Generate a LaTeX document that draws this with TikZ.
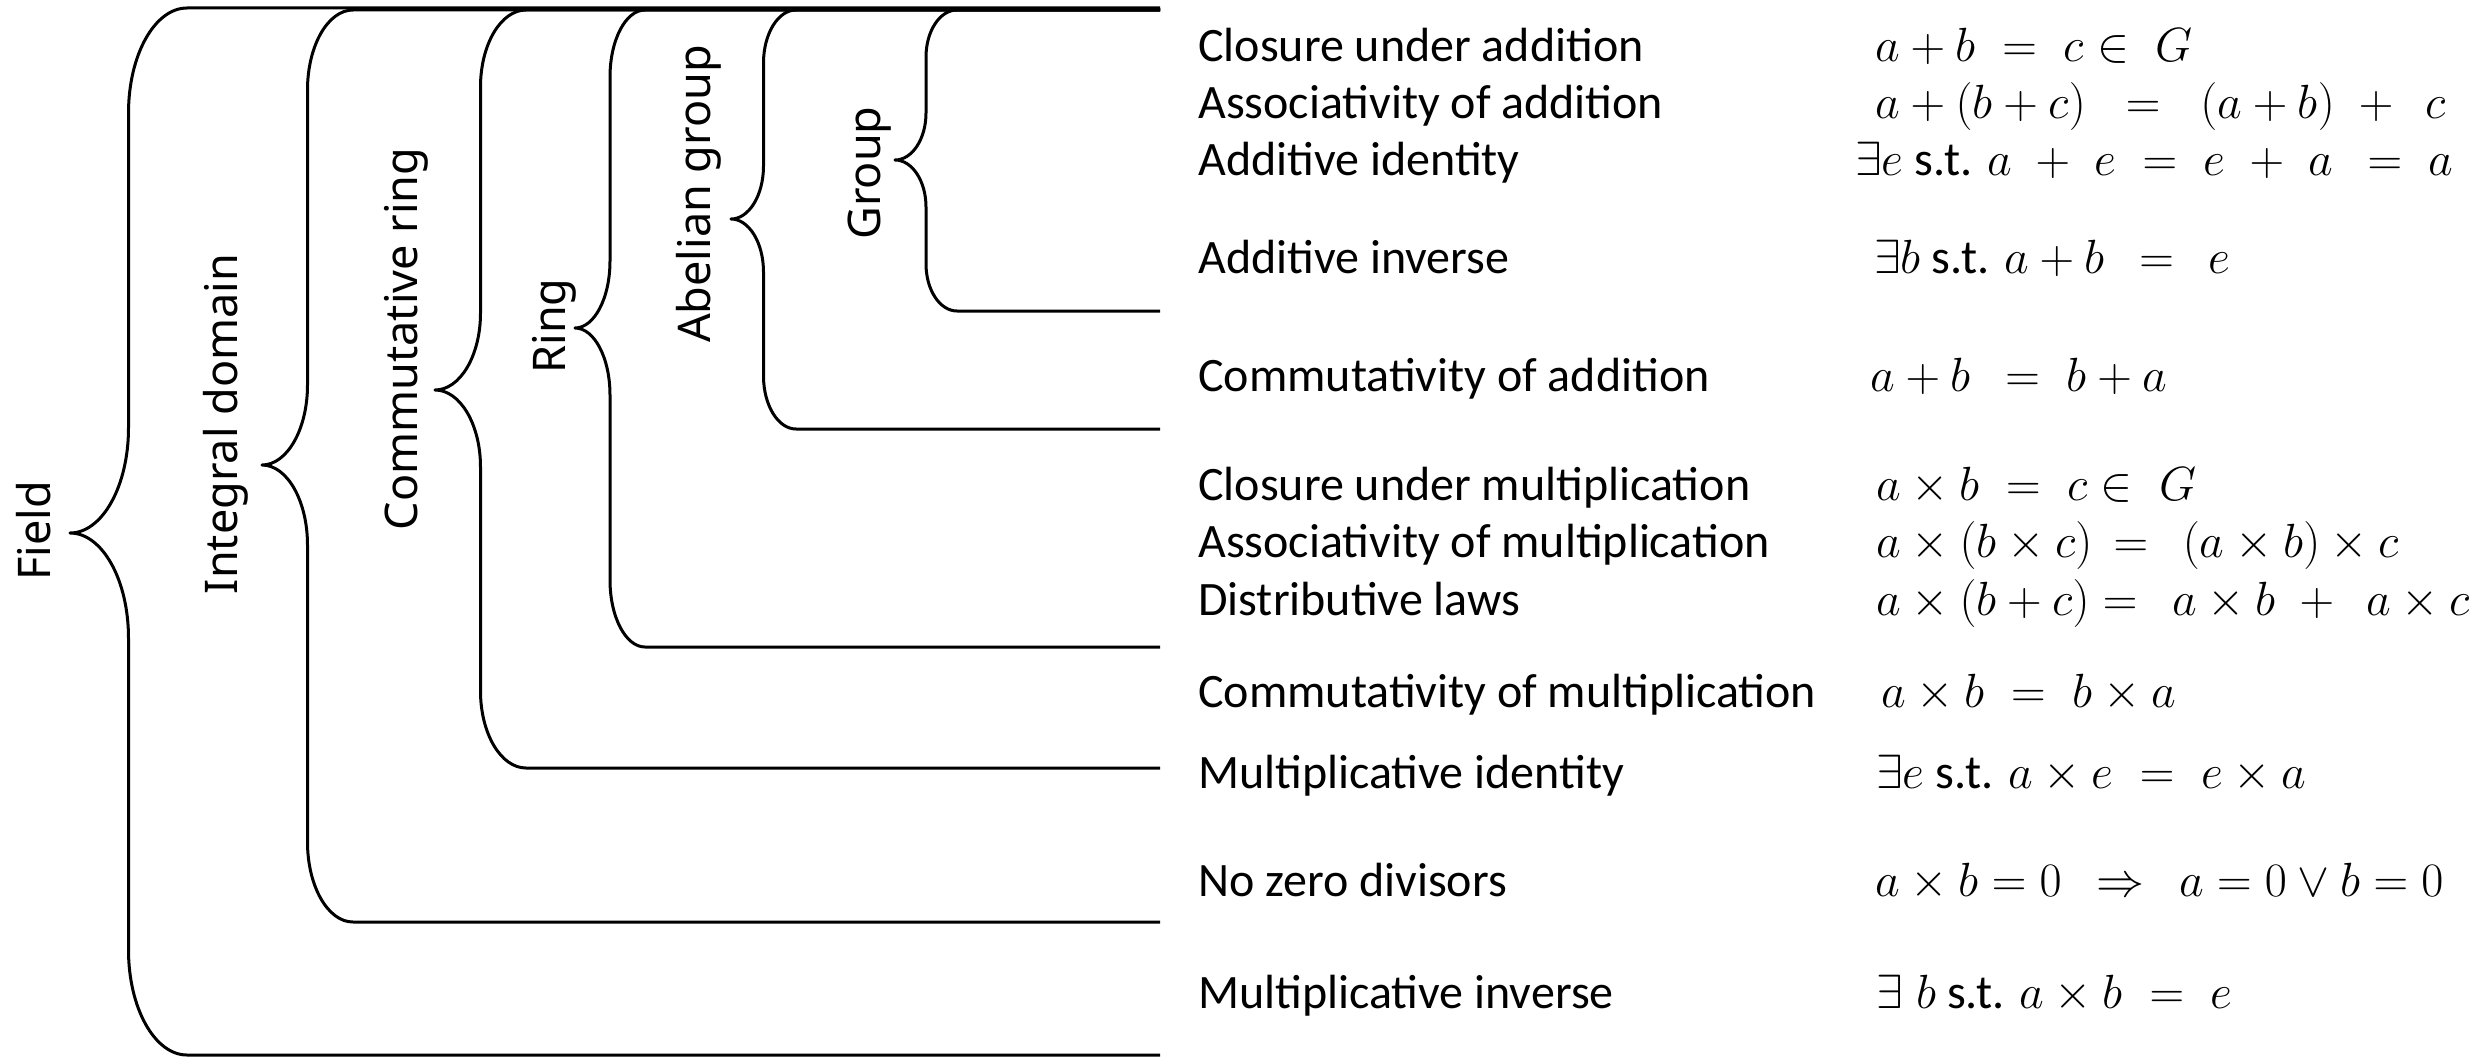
\RequirePackage{fix-cm}
\documentclass[tikz,border=0pt]{standalone}
\usepackage{fontspec}
\setmainfont{Carlito}
\newfontfamily\labelfont{Noto Sans}

% Curly brace opening to the right, with its two ends and tip as quarter ellipses.
% #1 tip x, #2 end x, #3 top y, #4 bottom y, #5 tip y, #6 vertical radius
\newcommand\algbrace[6]{%
  \pgfmathsetmacro\bhc{(#1+#2)/2}%
  \pgfmathsetmacro\bkx{0.5523*(#2-#1)/2}%
  \pgfmathsetmacro\bky{0.5523*#6}%
  \draw[bracestyle] (rend |- {(0,#3)}) -- (#2,#3)
    .. controls ({#2-\bkx},#3) and (\bhc,{#3+#6-\bky}) .. (\bhc,{#3+#6})
    -- (\bhc,{#5-#6})
    .. controls (\bhc,{#5-#6+\bky}) and ({#1+\bkx},#5) .. (#1,#5)
    .. controls ({#1+\bkx},#5) and (\bhc,{#5+#6-\bky}) .. (\bhc,{#5+#6})
    -- (\bhc,{#4-#6})
    .. controls (\bhc,{#4-#6+\bky}) and ({#2-\bkx},#4) .. (#2,#4)
    -- (rend |- {(0,#4)});
}

\begin{document}
\begin{tikzpicture}[x=1pt,y=-1pt,
  bracestyle/.style={line width=3pt,line join=round},
  setname/.style={rotate=90,anchor=base,inner sep=0pt,
    font=\labelfont\fontsize{45}{54}\selectfont},
  axiom/.style={anchor=base west,inner sep=0pt,
    font=\fontsize{48}{58}\selectfont},
  formula/.style={anchor=base west,inner sep=0pt,
    font=\fontsize{48}{58}\selectfont}]
\useasboundingbox (0,0) rectangle (2483,1057);
\coordinate (rend) at (1160,0);

% nested braces, outermost first
\algbrace{70}{187}{8}{1055}{533}{105}
\algbrace{262}{353}{10}{922}{465}{80}
\algbrace{435}{526}{10}{768}{390}{77}
\algbrace{575}{645}{10}{647}{328}{67}
\algbrace{731}{796}{10}{429}{219}{53}
\algbrace{895}{957}{10}{311}{160}{47}

% structure names
\node[setname] (field)  at (50,531)  {Field};
\node[setname] (intdom) at (237,424) {Integral domain};
\node[setname] (comring) at (417,339) {Commutative ring};
\node[setname] (ring)   at (565,326) {Ring};
\node[setname] (abgrp)  at (710,194) {Abelian group};
\node[setname] (grp)    at (880,173) {Group};

% axioms
\node[axiom] (p1)  at (1198,62)   {Closure under addition};
\node[axiom] (p2)  at (1198,118)  {Associativity of addition};
\node[axiom] (p3)  at (1198,175)  {Additive identity};
\node[axiom] (p4)  at (1198,273)  {Additive inverse};
\node[axiom] (p5)  at (1198,391)  {Commutativity of addition};
\node[axiom] (p6)  at (1198,500)  {Closure under multiplication};
\node[axiom] (p7)  at (1198,557)  {Associativity of multiplication};
\node[axiom] (p8)  at (1198,615)  {Distributive laws};
\node[axiom] (p9)  at (1198,707)  {Commutativity of multiplication};
\node[axiom] (p10) at (1198,788)  {Multiplicative identity};
\node[axiom] (p11) at (1198,896)  {No zero divisors};
\node[axiom] (p12) at (1198,1008) {Multiplicative inverse};

% formulas
\node[formula] (f1)  at (1875,62)   {$a+b\;=\;c\in\;G$};
\node[formula] (f2)  at (1875,118)  {$a+(b+c)\;\;=\;\;(a+b)\;+\;\,c$};
\node[formula] (f3)  at (1855,175)  {$\exists e\mbox{ s.t. }a\;+\;e\;=\;e\;+\;a\;\,=\;a$};
\node[formula] (f4)  at (1874,273)  {$\exists b\mbox{ s.t. }a+b\;\,=\;\,e$};
\node[formula] (f5)  at (1870,391)  {$a+b\;\,=\;b+a$};
\node[formula] (f6)  at (1876,500)  {$a\times b\;=\;c\in\;G$};
\node[formula] (f7)  at (1876,557)  {$a\times(b\times c)\,=\;\,(a\times b)\times c$};
\node[formula] (f8)  at (1876,615)  {$a\times(b+c)=\;\,a\times b\;+\;\,a\times c$};
\node[formula] (f9)  at (1881,707)  {$a\times b\;=\;b\times a$};
\node[formula] (f10) at (1876,788)  {$\exists e\mbox{ s.t. }a\times e\;=\;e\times a$};
\node[formula] (f11) at (1875,896)  {$a\times b=0\;\,\Rightarrow\;\,a=0\vee b=0$};
\node[formula] (f12) at (1876,1008) {$\exists\;b\mbox{ s.t. }a\times b\;=\;e$};
\end{tikzpicture}
\end{document}
